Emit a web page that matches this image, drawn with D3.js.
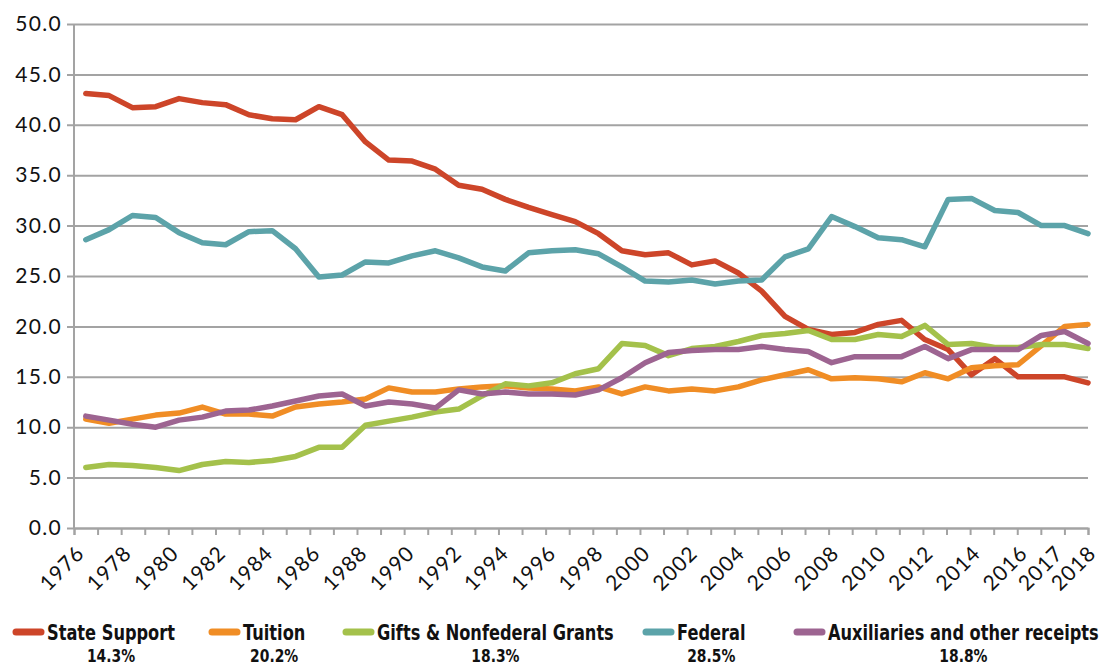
<!DOCTYPE html>
<html>
<head>
<meta charset="utf-8">
<script src="https://cdn.jsdelivr.net/npm/d3@7"></script>
<style>
  body { margin: 0; background: #fff; }
  svg { display: block; }
</style>
</head>
<body>
<div id="chart"></div>
<script>
// Series values (share of revenue, %), one value per plotted point
const stateSupport = [43.1, 42.9, 41.7, 41.8, 42.6, 42.2, 42.0, 41.0, 40.6, 40.5, 41.8, 41.0, 38.3, 36.5, 36.4, 35.6, 34.0, 33.6, 32.6, 31.8,
    31.1, 30.4, 29.2, 27.5, 27.1, 27.3, 26.1, 26.5, 25.3, 23.5, 21.0, 19.7, 19.2, 19.4, 20.2, 20.6, 18.7, 17.7, 15.2, 16.8,
    15.0, 15.0, 15.0, 14.4];
const tuition = [10.8, 10.4, 10.8, 11.2, 11.4, 12.0, 11.3, 11.3, 11.1, 12.0, 12.3, 12.5, 12.8, 13.9, 13.5, 13.5, 13.8, 14.0, 14.1, 13.9,
    13.8, 13.6, 14.0, 13.3, 14.0, 13.6, 13.8, 13.6, 14.0, 14.7, 15.2, 15.7, 14.8, 14.9, 14.8, 14.5, 15.4, 14.8, 15.9, 16.1,
    16.2, 18.1, 20.0, 20.2];
const gifts = [6.0, 6.3, 6.2, 6.0, 5.7, 6.3, 6.6, 6.5, 6.7, 7.1, 8.0, 8.0, 10.2, 10.6, 11.0, 11.5, 11.8, 13.1, 14.3, 14.1,
    14.4, 15.3, 15.8, 18.3, 18.1, 17.1, 17.8, 18.0, 18.5, 19.1, 19.3, 19.6, 18.7, 18.7, 19.2, 19.0, 20.1, 18.2, 18.3, 17.9,
    17.9, 18.2, 18.2, 17.8];
const federal = [28.6, 29.6, 31.0, 30.8, 29.3, 28.3, 28.1, 29.4, 29.5, 27.7, 24.9, 25.1, 26.4, 26.3, 27.0, 27.5, 26.8, 25.9, 25.5, 27.3,
    27.5, 27.6, 27.2, 25.9, 24.5, 24.4, 24.6, 24.2, 24.5, 24.6, 26.9, 27.7, 30.9, 29.9, 28.8, 28.6, 27.9, 32.6, 32.7, 31.5,
    31.3, 30.0, 30.0, 29.2];
const auxiliaries = [11.1, 10.7, 10.3, 10.0, 10.7, 11.0, 11.6, 11.7, 12.1, 12.6, 13.1, 13.3, 12.1, 12.5, 12.3, 11.9, 13.7, 13.3, 13.5, 13.3,
    13.3, 13.2, 13.7, 14.9, 16.4, 17.4, 17.6, 17.7, 17.7, 18.0, 17.7, 17.5, 16.4, 17.0, 17.0, 17.0, 18.0, 16.8, 17.7, 17.7,
    17.7, 19.1, 19.5, 18.3];

// Axis labels
const yearLabels = ["1976", "1978", "1980", "1982", "1984", "1986", "1988", "1990", "1992", "1994", "1996", "1998",
    "2000", "2002", "2004", "2006", "2008", "2010", "2012", "2014", "2016", "2017", "2018"];
const yTicks = [0, 5, 10, 15, 20, 25, 30, 35, 40, 45, 50];

// Legend
const seriesNames = ["State Support", "Tuition", "Gifts & Nonfederal Grants", "Federal", "Auxiliaries and other receipts"];
const seriesShares = ["14.3%", "20.2%", "18.3%", "28.5%", "18.8%"];
const seriesValues = [stateSupport, tuition, gifts, federal, auxiliaries];
const colors = ["#cd4529", "#f08d25", "#a4c14b", "#5ca3a9", "#9d6491"];

const W = 1099, H = 669;
const margin = { top: 24, right: 11, bottom: 141, left: 74 };
const width = W - margin.left - margin.right;
const height = H - margin.top - margin.bottom;
const gridColor = "#a3a3a3";
const nSlots = 43;
const axisFont = "Lato, 'Open Sans', sans-serif";
const legendFont = "'DejaVu Sans', sans-serif";

const svg = d3.select("#chart").append("svg")
    .attr("width", W)
    .attr("height", H);

const g = svg.append("g")
    .attr("transform", `translate(${margin.left},${margin.top})`);

// Scales
const y = d3.scaleLinear().domain([0, 50]).range([height, 0]);
const xSlot = d3.scaleLinear().domain([0, nSlots]).range([0, width]);
const xPt = d3.scalePoint()
    .domain(d3.range(stateSupport.length))
    .range([xSlot(0.5), xSlot(nSlots)]);

// Y axis with gridlines
const yAxis = g.append("g")
    .call(d3.axisLeft(y).tickValues(yTicks).tickSize(-width).tickPadding(12).tickFormat(d3.format(".1f")));
yAxis.select(".domain").remove();
yAxis.selectAll(".tick line")
    .attr("x1", -7)
    .attr("stroke", gridColor)
    .attr("stroke-width", 2);
yAxis.selectAll(".tick text")
    .style("font-family", axisFont)
    .style("font-size", "21px")
    .style("letter-spacing", "1.3px")
    .attr("fill", "#111");

g.append("line")
    .attr("x1", 0).attr("x2", 0)
    .attr("y1", 0).attr("y2", height)
    .attr("stroke", gridColor)
    .attr("stroke-width", 2);

// X axis: tick marks between slots
const xAxis = g.append("g")
    .attr("transform", `translate(0,${height})`)
    .call(d3.axisBottom(xSlot).tickValues(d3.range(nSlots + 1)).tickSize(7).tickFormat(""));
xAxis.select(".domain").attr("stroke", gridColor).attr("stroke-width", 2);
xAxis.selectAll(".tick line").attr("stroke", gridColor).attr("stroke-width", 2);

// Rotated year labels (the last two are squeezed in to fit the frame)
g.append("g").selectAll("text")
    .data(yearLabels)
    .enter()
    .append("text")
    .attr("transform", (d, i) => {
        const slot = i <= 20 ? i * 2 : (i === 21 ? 41.5 : 42.9);
        return `translate(${xSlot(slot) + 1},${height + 16}) rotate(-45)`;
    })
    .attr("text-anchor", "end")
    .attr("dy", "0.72em")
    .style("font-family", axisFont)
    .style("font-size", "21px")
    .style("letter-spacing", "1px")
    .attr("fill", "#111")
    .text(d => d);

// Lines
const line = d3.line()
    .x((d, i) => xPt(i))
    .y(d => y(d));

g.selectAll(".series")
    .data(seriesValues)
    .enter()
    .append("path")
    .attr("class", "series")
    .attr("d", d => line(d))
    .attr("fill", "none")
    .attr("stroke", (d, i) => colors[i])
    .attr("stroke-width", 5.5)
    .attr("stroke-linejoin", "round")
    .attr("stroke-linecap", "round");

// Legend: condensed bold text, squeezed horizontally
const legendX = [13, 209, 343, 643, 794];
const legend = svg.append("g");
let squeeze = 1;
seriesNames.forEach((name, i) => {
    const item = legend.append("g").attr("transform", `translate(${legendX[i]},0)`);
    item.append("line")
        .attr("x1", 3).attr("x2", 28)
        .attr("y1", 632).attr("y2", 632)
        .attr("stroke", colors[i])
        .attr("stroke-width", 7)
        .attr("stroke-linecap", "round");
    const label = item.append("text")
        .style("font-family", legendFont)
        .style("font-weight", "bold")
        .style("font-size", "21px")
        .attr("fill", "#111")
        .text(name);
    const lw = label.node().getComputedTextLength();
    if (i === 0) squeeze = 128 / lw;
    label.attr("transform", `translate(34,640) scale(${squeeze},1)`);
    item.append("text")
        .attr("transform", `translate(${34 + lw * squeeze / 2},662) scale(${squeeze},1)`)
        .attr("text-anchor", "middle")
        .style("font-family", legendFont)
        .style("font-weight", "bold")
        .style("font-size", "18px")
        .attr("fill", "#111")
        .text(seriesShares[i]);
});
</script>
</body>
</html>
